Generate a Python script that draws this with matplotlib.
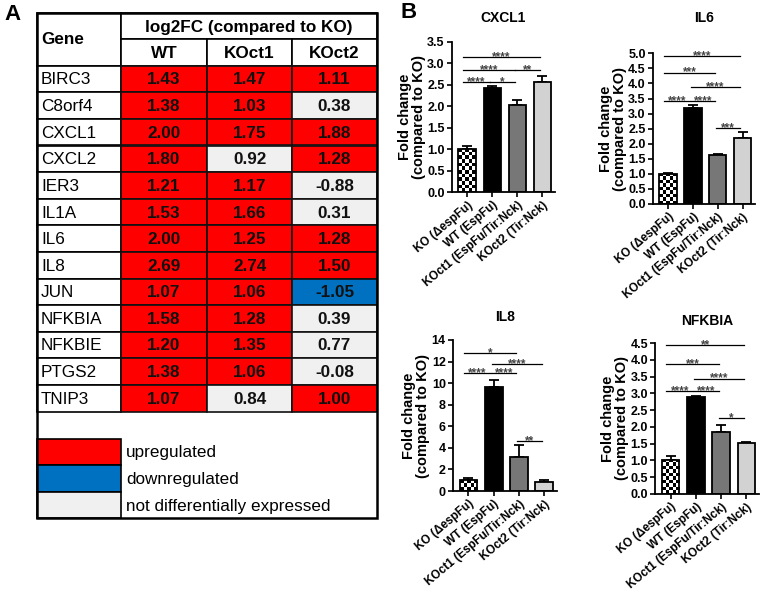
import numpy as np
import matplotlib
matplotlib.use("Agg")
import matplotlib.pyplot as plt
from matplotlib.patches import Rectangle

plt.rcParams['font.family'] = ['Liberation Sans', 'DejaVu Sans']

# ---- panel A data ----
genes = ["BIRC3", "C8orf4", "CXCL1", "CXCL2", "IER3", "IL1A", "IL6", "IL8",
         "JUN", "NFKBIA", "NFKBIE", "PTGS2", "TNIP3"]
fc_wt = [1.43, 1.38, 2.00, 1.80, 1.21, 1.53, 2.00, 2.69, 1.07, 1.58, 1.20, 1.38, 1.07]
fc_koct1 = [1.47, 1.03, 1.75, 0.92, 1.17, 1.66, 1.25, 2.74, 1.06, 1.28, 1.35, 1.06, 0.84]
fc_koct2 = [1.11, 0.38, 1.88, 1.28, -0.88, 0.31, 1.28, 1.50, -1.05, 0.39, 0.77, -0.08, 1.00]
col_names = ["WT", "KOct1", "KOct2"]
legend_labels = ["upregulated", "downregulated", "not differentially expressed"]

# ---- panel B data ----
strains = ["KO (\u0394espFu)", "WT (EspFu)", "KOct1 (EspFu/Tir:Nck)", "KOct2 (Tir:Nck)"]
cxcl1_mean = [1.00, 2.42, 2.04, 2.56]
cxcl1_err = [0.08, 0.06, 0.11, 0.15]
il6_mean = [1.00, 3.17, 1.63, 2.20]
il6_err = [0.04, 0.12, 0.04, 0.18]
il8_mean = [1.02, 9.67, 3.18, 0.83]
il8_err = [0.20, 0.60, 1.08, 0.17]
nfkbia_mean = [1.02, 2.88, 1.85, 1.52]
nfkbia_err = [0.10, 0.05, 0.22, 0.04]

cxcl1_sig = [(0, 1, 2.57, "****"), (1, 2, 2.57, "*"), (0, 2, 2.84, "****"),
             (2, 3, 2.84, "**"), (0, 3, 3.15, "****")]
il6_sig = [(0, 1, 3.43, "****"), (1, 2, 3.43, "****"), (1, 3, 3.87, "****"),
           (0, 2, 4.36, "***"), (0, 3, 4.92, "****"), (2, 3, 2.53, "***")]
il8_sig = [(0, 1, 10.9, "****"), (1, 2, 10.9, "****"), (1, 3, 11.8, "****"),
           (0, 2, 12.8, "*"), (2, 3, 4.6, "**")]
nfkbia_sig = [(0, 1, 3.08, "****"), (1, 2, 3.08, "****"), (1, 3, 3.44, "****"),
              (0, 2, 3.88, "***"), (0, 3, 4.43, "**"), (2, 3, 2.27, "*")]

RED = "#ff0000"
BLUE = "#0070c0"
GREY = "#f0f0f0"

W, H = 760, 592
fig = plt.figure(figsize=(W / 100, H / 100), dpi=100)

# overlay axes in pixel units for the table and panel letters
tab = fig.add_axes([0, 0, 1, 1])
tab.set_xlim(0, W)
tab.set_ylim(H, 0)
tab.axis("off")

fs = 12.3
col_x = [37, 121, 207, 292, 377]
head_y = [13.3, 39.3, 65.7]
row_h = 26.6

# header
tab.add_patch(Rectangle((col_x[0], head_y[0]), col_x[1] - col_x[0], head_y[2] - head_y[0],
                        fc="white", ec="black", lw=1.2))
tab.text(col_x[0] + 4, (head_y[0] + head_y[2]) / 2, "Gene", fontsize=fs, fontweight="bold",
         ha="left", va="center")
tab.add_patch(Rectangle((col_x[1], head_y[0]), col_x[4] - col_x[1], head_y[1] - head_y[0],
                        fc="white", ec="black", lw=1.2))
tab.text((col_x[1] + col_x[4]) / 2, (head_y[0] + head_y[1]) / 2 + 1, "log2FC (compared to KO)",
         fontsize=fs, fontweight="bold", ha="center", va="center")
for k, name in enumerate(col_names):
    tab.add_patch(Rectangle((col_x[k + 1], head_y[1]), col_x[k + 2] - col_x[k + 1],
                            head_y[2] - head_y[1], fc="white", ec="black", lw=1.2))
    tab.text((col_x[k + 1] + col_x[k + 2]) / 2, (head_y[1] + head_y[2]) / 2 + 1, name,
             fontsize=fs, fontweight="bold", ha="center", va="center")


def cell_color(v):
    if v >= 1:
        return RED
    if v <= -1:
        return BLUE
    return GREY


for r, g in enumerate(genes):
    y0 = head_y[2] + r * row_h
    tab.add_patch(Rectangle((col_x[0], y0), col_x[1] - col_x[0], row_h, fc="white",
                            ec="black", lw=1.2))
    tab.text(col_x[0] + 4, y0 + row_h / 2 + 1, g, fontsize=fs, ha="left", va="center")
    for k, vals in enumerate([fc_wt, fc_koct1, fc_koct2]):
        v = vals[r]
        tab.add_patch(Rectangle((col_x[k + 1], y0), col_x[k + 2] - col_x[k + 1], row_h,
                                fc=cell_color(v), ec="#111111", lw=1.2))
        tab.text((col_x[k + 1] + col_x[k + 2]) / 2, y0 + row_h / 2 + 1, "%.2f" % v,
                 fontsize=fs, fontweight="bold", ha="center", va="center", color="#111111")

# legend
table_bottom = head_y[2] + len(genes) * row_h
leg_top = table_bottom + 27
for k, (lab, c) in enumerate(zip(legend_labels, [RED, BLUE, GREY])):
    y0 = leg_top + k * row_h
    tab.add_patch(Rectangle((col_x[0], y0), col_x[1] - col_x[0], row_h, fc=c, ec="black", lw=1.2))
    tab.text(col_x[1] + 5, y0 + row_h / 2 + 1, lab, fontsize=fs, ha="left", va="center")
leg_bottom = leg_top + 3 * row_h
tab.add_patch(Rectangle((col_x[0], head_y[0]), col_x[4] - col_x[0], leg_bottom - head_y[0],
                        fc="none", ec="black", lw=1.8))

tab.text(4, 14, "A", fontsize=16, fontweight="bold", ha="left", va="center")
tab.text(401, 13, "B", fontsize=16, fontweight="bold", ha="left", va="center")

# ---- bar charts ----
XLIM = (-0.62, 3.5)
bar_colors = ["white", "black", "#777777", "#d2d2d2"]


def bar_panel(box, title, title_y, means, errs, ymax, ystep, sigs):
    left, right, top, zero = box
    ax = fig.add_axes([left / W, 1 - zero / H, (right - left) / W, (zero - top) / H])
    x = np.arange(len(means))
    bars = ax.bar(x, means, width=0.7, color=bar_colors, edgecolor="black", linewidth=1.3,
                  zorder=2)
    ax.errorbar(x, means, yerr=[np.zeros(len(errs)), errs], fmt="none", ecolor="black",
                elinewidth=1.3, capsize=3.5, capthick=1.3, zorder=1)
    ax.set_xlim(*XLIM)
    ax.set_ylim(0, ymax)
    # checkerboard fill for the KO bar
    b = bars[0]
    bx, bw, bh = b.get_x(), b.get_width(), b.get_height()
    p0 = ax.transData.transform((bx, 0))
    p1 = ax.transData.transform((bx + bw, bh))
    nx = 5
    ny = max(1, int(round((p1[1] - p0[1]) / ((p1[0] - p0[0]) / nx))))
    checker = np.indices((ny, nx)).sum(axis=0) % 2
    im = ax.imshow(checker, cmap="gray", extent=(bx, bx + bw, 0, bh), aspect="auto",
                   interpolation="nearest", zorder=1.9, vmin=0, vmax=1)
    im.set_clip_path(b)
    b.set_facecolor("none")
    ax.set_xlim(*XLIM)
    ax.set_ylim(0, ymax)

    for i, j, yy, lab in sigs:
        x0 = i - (0.17 if i == 0 else 0.08)
        x1 = j - 0.1
        ax.plot([x0, x1], [yy, yy], color="black", lw=0.9, clip_on=False)
        ax.annotate(lab, ((x0 + x1) / 2, yy), xytext=(0, -2.2), textcoords="offset points",
                    fontsize=8.5, color="#444444", ha="center", va="baseline",
                    fontweight="bold", annotation_clip=False)

    ax.set_yticks(np.arange(0, ymax + ystep / 2, ystep))
    if ystep < 1:
        ax.set_yticklabels(["%.1f" % t for t in np.arange(0, ymax + ystep / 2, ystep)])
    ax.set_xticks(x)
    ax.set_xticklabels(strains, rotation=40, ha="right", rotation_mode="anchor")
    ax.tick_params(axis="both", direction="out", length=3.5, width=1.2, pad=1.5)
    ax.tick_params(axis="y", labelsize=9)
    ax.tick_params(axis="x", labelsize=8.5)
    for lbl in ax.get_xticklabels() + ax.get_yticklabels():
        lbl.set_fontweight("bold")
    ax.spines["top"].set_visible(False)
    ax.spines["right"].set_visible(False)
    ax.spines["left"].set_linewidth(1.3)
    ax.spines["bottom"].set_linewidth(1.3)
    ax.patch.set_alpha(0)
    ax.set_ylabel("Fold change\n(compared to KO)", fontsize=10.5, fontweight="bold",
                  labelpad=1, linespacing=1.0)
    fig.text(((left + right) / 2) / W, 1 - title_y / H, title, fontsize=10, fontweight="bold",
             ha="center", va="center")
    return ax


bar_panel((451.7, 555, 41.7, 192.3), "CXCL1", 18, cxcl1_mean, cxcl1_err, 3.5, 0.5, cxcl1_sig)
bar_panel((652.7, 755, 53.3, 204), "IL6", 18, il6_mean, il6_err, 5.0, 0.5, il6_sig)
bar_panel((452.7, 557, 340, 491), "IL8", 317, il8_mean, il8_err, 14, 2, il8_sig)
bar_panel((655, 759, 343, 494), "NFKBIA", 321, nfkbia_mean, nfkbia_err, 4.5, 0.5, nfkbia_sig)

fig.savefig("out.png", dpi=100)
